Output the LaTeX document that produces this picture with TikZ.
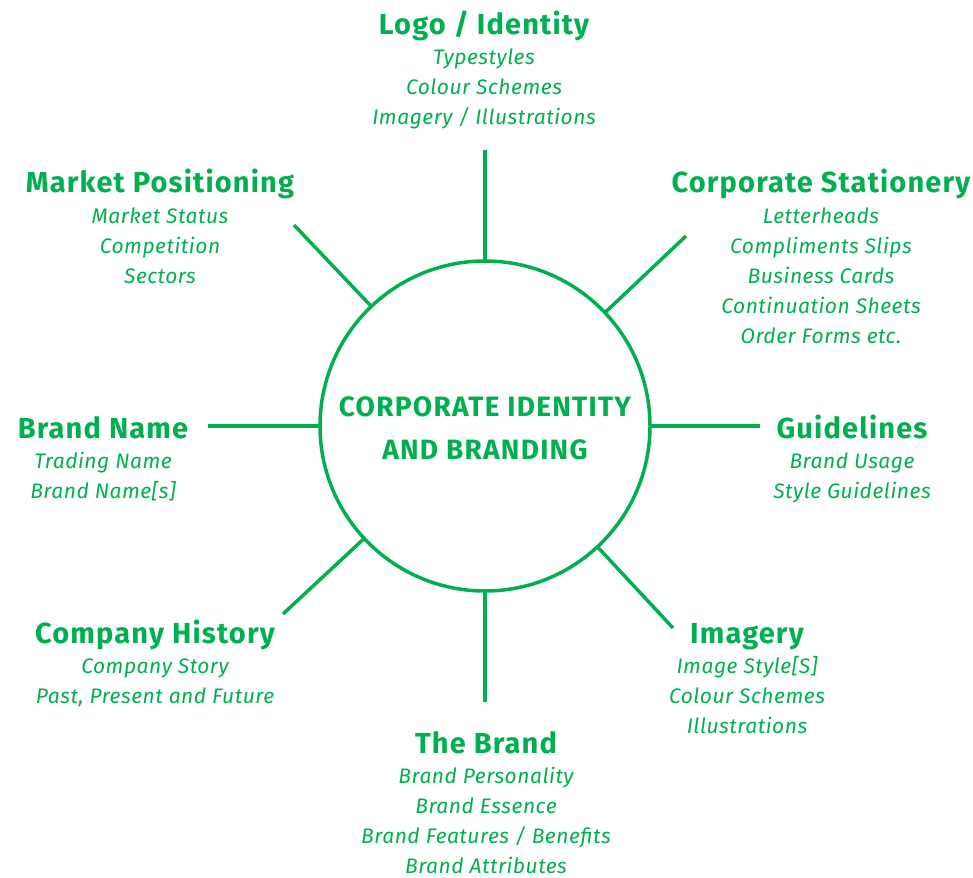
\documentclass[tikz,border=0pt]{standalone}
\usepackage{fontspec}
\setmainfont{Fira Sans}
\newfontfamily\ttlfont{Fira Sans}[LetterSpace=4]
\newfontfamily\subfont{Fira Sans}[LetterSpace=2.5]
\newfontfamily\hubfont{Fira Sans}[LetterSpace=4.5]
\definecolor{brandgreen}{HTML}{00B050}
\newcommand\branchtext[5]{%
  \node[ttl] (#1) at (#2,#3) {#4};
  \foreach \s [count=\i] in {#5} {\node[sub] (#1-\i) at (#2,#3+30*\i) {\s};}%
}
\begin{document}
\begin{tikzpicture}[x=1pt,y=-1pt,
  ttl/.style={text=brandgreen,font=\ttlfont\fontsize{29}{30}\selectfont\bfseries,anchor=base,inner sep=0pt},
  sub/.style={text=brandgreen,font=\subfont\fontsize{21}{24}\selectfont\itshape,anchor=base,inner sep=0pt},
  hubtxt/.style={text=brandgreen,font=\hubfont\fontsize{28}{30}\selectfont\bfseries,anchor=base,inner sep=0pt},
  spoke/.style={draw=brandgreen,line width=3.5pt}]
\useasboundingbox (0,0) rectangle (973,877);
\node[circle,draw=brandgreen,line width=3.5pt,minimum size=330pt,inner sep=0pt,outer sep=0pt] (hub) at (485,426) {};
\node[hubtxt] (h1) at (485,416) {CORPORATE IDENTITY};
\node[hubtxt] (h2) at (485,459) {AND BRANDING};
% spokes
\coordinate (oT) at (485,150);
\coordinate (oTR) at (686,236);
\coordinate (oR) at (760,426);
\coordinate (oBR) at (673,628);
\coordinate (oB) at (485,702);
\coordinate (oBL) at (283,614);
\coordinate (oL) at (208,426);
\coordinate (oTL) at (294,225);
\foreach \o in {oT,oTR,oR,oBR,oB,oBL,oL,oTL} {\draw[spoke] (\o) -- (hub);}
% texts
\branchtext{logo}{484}{35}{Logo / Identity}{Typestyles,Colour Schemes,Imagery / Illustrations}
\branchtext{market}{160}{193}{Market Positioning}{Market Status,Competition,Sectors}
\branchtext{stat}{821}{193}{Corporate Stationery}{Letterheads,Compliments Slips,Business Cards,Continuation Sheets,Order Forms etc.}
\branchtext{bname}{103}{438}{Brand Name}{Trading Name,Brand Name[s]}
\branchtext{guide}{852}{438}{Guidelines}{Brand Usage,Style Guidelines}
\branchtext{hist}{155}{643}{Company History}{Company Story,{Past, Present and Future}}
\branchtext{img}{747}{643}{Imagery}{Image Style[S],Colour Schemes,Illustrations}
\branchtext{brand}{486}{753}{The Brand}{Brand Personality,Brand Essence,Brand Features / Benefits,Brand Attributes}
\end{tikzpicture}
\end{document}
